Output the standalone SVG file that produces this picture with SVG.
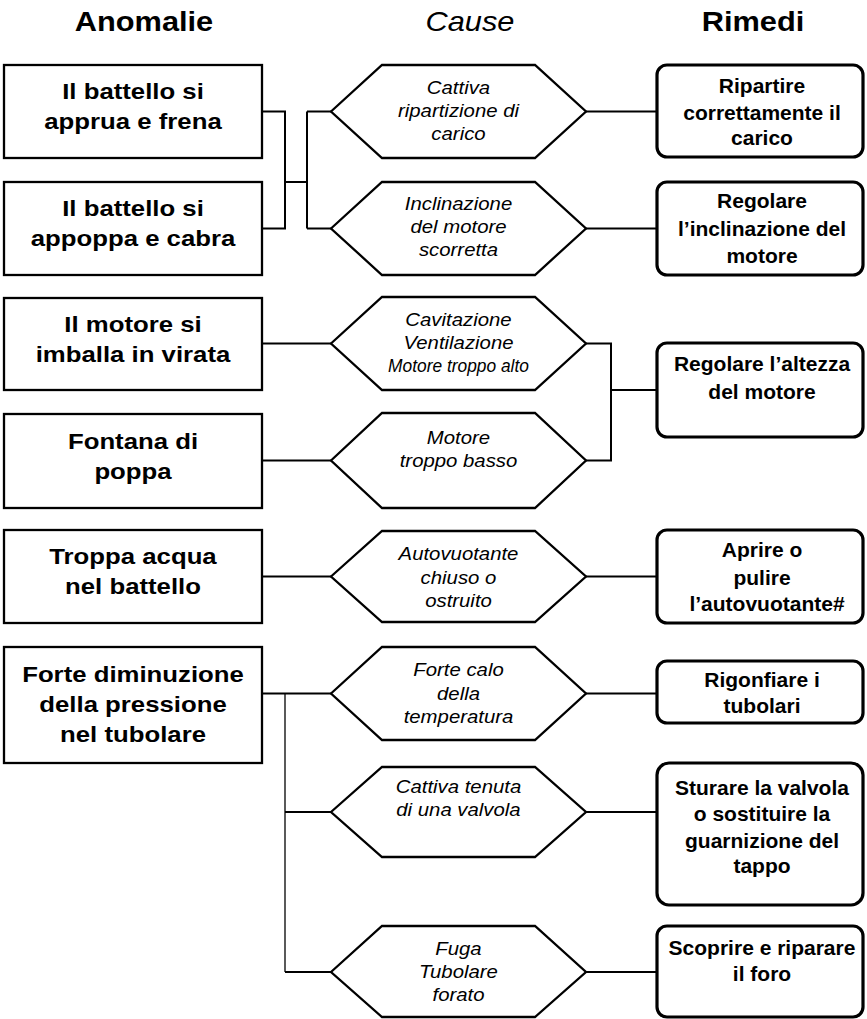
<svg xmlns="http://www.w3.org/2000/svg" width="867" height="1019" viewBox="0 0 867 1019">
<style>
.bg{fill:#fff}
.box{fill:#fff;stroke:#000;stroke-width:2.3}
.hex{fill:#fff;stroke:#000;stroke-width:2.3;stroke-linejoin:miter}
.rbox{fill:#fff;stroke:#000;stroke-width:3.2}
.conn{fill:none;stroke:#000;stroke-width:2}
.thin{fill:none;stroke:#000;stroke-width:1.3}
text{font-family:"Liberation Sans",Arial,sans-serif;fill:#000;text-anchor:middle}
.hdr{font-size:27px;font-weight:bold}
.hdri{font-size:27px;font-style:italic}
.lt{font-size:23px;font-weight:bold}
.ht{font-size:18.5px;font-style:italic}
.rt{font-size:21px;font-weight:bold}
</style>
<rect class="bg" x="0" y="0" width="867" height="1019"/>

<g id="headers">
  <g transform="translate(144 0) scale(1.14 1)"><text class="hdr" x="0" y="31">Anomalie</text></g>
  <g transform="translate(470 0) scale(1.14 1)"><text class="hdri" x="0" y="31">Cause</text></g>
  <g transform="translate(753 0) scale(1.14 1)"><text class="hdr" x="0" y="31">Rimedi</text></g>
</g>

<g id="connectors">
  <path class="conn" d="M262 111.5H285V228.5H262M285 182H307M307 111.5V228.5M307 111.5H331M307 228.5H331"/>
  <path class="conn" d="M586 111.5H657M586 228.5H657"/>
  <path class="conn" d="M262 343.5H331M262 460.5H331"/>
  <path class="conn" d="M586 343.5H611V460.5H586M611 390H657"/>
  <path class="conn" d="M262 576.5H331M586 576.5H657"/>
  <path class="conn" d="M262 693.5H331M285 812H331M285 972H331"/>
  <path class="thin" d="M285 693.5V972"/>
  <path class="conn" d="M586 693.5H657M586 812H657M586 972H657"/>
</g>

<g id="a1"><rect class="box" x="4" y="65" width="258" height="93"/>
  <g transform="translate(133 0) scale(1.12 1)"><text class="lt" x="0" y="99.5">Il battello si</text><text class="lt" x="0" y="129.5">apprua e frena</text></g></g>
<g id="a2"><rect class="box" x="4" y="182" width="258" height="93"/>
  <g transform="translate(133 0) scale(1.12 1)"><text class="lt" x="0" y="216.5">Il battello si</text><text class="lt" x="0" y="246.5">appoppa e cabra</text></g></g>
<g id="a3"><rect class="box" x="4" y="298" width="258" height="92"/>
  <g transform="translate(133 0) scale(1.12 1)"><text class="lt" x="0" y="332">Il motore si</text><text class="lt" x="0" y="362">imballa in virata</text></g></g>
<g id="a4"><rect class="box" x="4" y="414" width="258" height="94"/>
  <g transform="translate(133 0) scale(1.12 1)"><text class="lt" x="0" y="449">Fontana di</text><text class="lt" x="0" y="479">poppa</text></g></g>
<g id="a5"><rect class="box" x="4" y="530" width="258" height="93"/>
  <g transform="translate(133 0) scale(1.12 1)"><text class="lt" x="0" y="564.5">Troppa acqua</text><text class="lt" x="0" y="594.5">nel battello</text></g></g>
<g id="a6"><rect class="box" x="4" y="647" width="258" height="116"/>
  <g transform="translate(133 0) scale(1.12 1)"><text class="lt" x="0" y="682">Forte diminuzione</text><text class="lt" x="0" y="712">della pressione</text><text class="lt" x="0" y="742">nel tubolare</text></g></g>

<g id="c1"><polygon class="hex" points="331,111.5 382,65 535,65 586,111.5 535,158 382,158"/>
  <g transform="translate(458.5 0) scale(1.1 1)"><text class="ht" x="0" y="94">Cattiva</text><text class="ht" x="0" y="117">ripartizione di</text><text class="ht" x="0" y="140">carico</text></g></g>
<g id="c2"><polygon class="hex" points="331,228.5 382,182 535,182 586,228.5 535,275 382,275"/>
  <g transform="translate(458.5 0) scale(1.1 1)"><text class="ht" x="0" y="210">Inclinazione</text><text class="ht" x="0" y="233">del motore</text><text class="ht" x="0" y="256">scorretta</text></g></g>
<g id="c3"><polygon class="hex" points="331,343.5 382,297 535,297 586,343.5 535,390 382,390"/>
  <g transform="translate(458.5 0) scale(1.1 1)"><text class="ht" x="0" y="326">Cavitazione</text><text class="ht" x="0" y="349">Ventilazione</text><text class="ht" x="0" y="372" textLength="128" lengthAdjust="spacingAndGlyphs">Motore troppo alto</text></g></g>
<g id="c4"><polygon class="hex" points="331,460.5 382,413 535,413 586,460.5 535,508 382,508"/>
  <g transform="translate(458.5 0) scale(1.1 1)"><text class="ht" x="0" y="444">Motore</text><text class="ht" x="0" y="467">troppo basso</text></g></g>
<g id="c5"><polygon class="hex" points="331,576.5 382,531 535,531 586,576.5 535,622 382,622"/>
  <g transform="translate(458.5 0) scale(1.1 1)"><text class="ht" x="0" y="560">Autovuotante</text><text class="ht" x="0" y="584">chiuso o</text><text class="ht" x="0" y="607">ostruito</text></g></g>
<g id="c6"><polygon class="hex" points="331,693.5 382,647 535,647 586,693.5 535,740 382,740"/>
  <g transform="translate(458.5 0) scale(1.1 1)"><text class="ht" x="0" y="676">Forte calo</text><text class="ht" x="0" y="700">della</text><text class="ht" x="0" y="723">temperatura</text></g></g>
<g id="c7"><polygon class="hex" points="331,812 382,767 535,767 586,812 535,857 382,857"/>
  <g transform="translate(458.5 0) scale(1.1 1)"><text class="ht" x="0" y="793">Cattiva tenuta</text><text class="ht" x="0" y="816">di una valvola</text></g></g>
<g id="c8"><polygon class="hex" points="331,972 382,926 535,926 586,972 535,1017 382,1017"/>
  <g transform="translate(458.5 0) scale(1.1 1)"><text class="ht" x="0" y="955">Fuga</text><text class="ht" x="0" y="978">Tubolare</text><text class="ht" x="0" y="1001">forato</text></g></g>

<g id="r1"><rect class="rbox" x="657" y="65" width="206" height="92" rx="10"/>
  <text class="rt" x="762" y="92.5">Ripartire</text><text class="rt" x="762" y="119.5">correttamente il</text><text class="rt" x="762" y="144.5">carico</text></g>
<g id="r2"><rect class="rbox" x="657" y="182" width="206" height="93" rx="10"/>
  <text class="rt" x="762" y="207.5">Regolare</text><text class="rt" x="762" y="235.5">l’inclinazione del</text><text class="rt" x="762" y="262.5">motore</text></g>
<g id="r3"><rect class="rbox" x="657" y="343" width="206" height="94" rx="10"/>
  <text class="rt" x="762" y="370.5">Regolare l’altezza</text><text class="rt" x="762" y="398.5">del motore</text></g>
<g id="r5"><rect class="rbox" x="657" y="530" width="206" height="93" rx="10"/>
  <text class="rt" x="762" y="556.5">Aprire o</text><text class="rt" x="762" y="584.5">pulire</text><text class="rt" x="767" y="610.5">l’autovuotante#</text></g>
<g id="r6"><rect class="rbox" x="657" y="661" width="206" height="62" rx="10"/>
  <text class="rt" x="762" y="686.5">Rigonfiare i</text><text class="rt" x="762" y="712.5">tubolari</text></g>
<g id="r7"><rect class="rbox" x="657" y="763" width="206" height="142" rx="12"/>
  <text class="rt" x="762" y="794.5">Sturare la valvola</text><text class="rt" x="762" y="820.5">o sostituire la</text><text class="rt" x="762" y="847.5">guarnizione del</text><text class="rt" x="762" y="872.5">tappo</text></g>
<g id="r8"><rect class="rbox" x="657" y="926" width="206" height="91" rx="10"/>
  <text class="rt" x="762" y="954.5">Scoprire e riparare</text><text class="rt" x="762" y="980.5">il foro</text></g>
</svg>
